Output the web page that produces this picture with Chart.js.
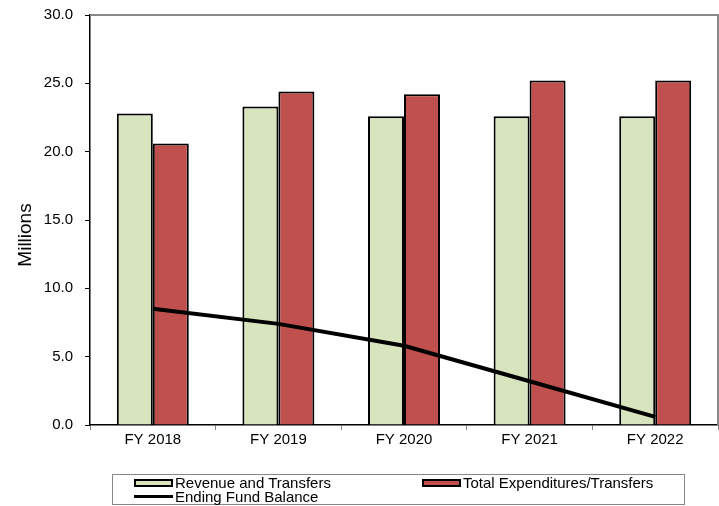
<!DOCTYPE html>
<html>
<head>
<meta charset="utf-8">
<script src="https://cdn.jsdelivr.net/npm/chart.js@4/dist/chart.umd.min.js"></script>
<style>
  html, body { margin: 0; padding: 0; background: #fff; }
  #wrap { position: relative; width: 719px; height: 506px; font-family: "Liberation Sans", Arial, sans-serif; }
  #legend {
    position: absolute; left: 112px; top: 474px; width: 573px; height: 31px;
    border: 1px solid #888; box-sizing: border-box; font-size: 15px; color: #000;
  }
  .item { position: absolute; display: flex; align-items: center; height: 15px; line-height: 15px; white-space: nowrap; }
  .swatch { width: 35px; height: 4px; border: 2px solid #000; margin-right: 2px; }
  .lineSwatch { width: 39px; height: 3.5px; background: #000; margin-right: 2px; }
</style>
</head>
<body>
<div id="wrap">
  <canvas id="c" width="719" height="506"></canvas>
  <div id="legend"></div>
</div>
<script>
// Fiscal years shown on the x axis
const categories = ['FY 2018', 'FY 2019', 'FY 2020', 'FY 2021', 'FY 2022'];
// Values in millions
const revenueTransfers = [22.8, 23.3, 22.6, 22.6, 22.6];
const totalExpenditures = [20.6, 24.4, 24.2, 25.2, 25.2];
const endingFundBalance = [8.5, 7.4, 5.8, 3.2, 0.6];
// Y axis range and tick step
const yTicks = [0, 5, 10, 15, 20, 25, 30];
const yAxisTitle = 'Millions';

const FONT = '"Liberation Sans", Arial, sans-serif';

// Grey frame on the top and right sides of the plot area
const frame = {
  id: 'frame',
  beforeDatasetsDraw(chart) {
    const { ctx, chartArea: a } = chart;
    ctx.save();
    ctx.strokeStyle = '#888';
    ctx.lineWidth = 2;
    ctx.beginPath();
    ctx.moveTo(a.left, a.top);
    ctx.lineTo(a.right, a.top);
    ctx.lineTo(a.right, a.bottom);
    ctx.stroke();
    ctx.restore();
  }
};

// Rotated y-axis title, sitting a little below the axis midpoint
const yTitle = {
  id: 'yTitle',
  afterDraw(chart) {
    const { ctx, chartArea: a } = chart;
    ctx.save();
    ctx.translate(26, (a.top + a.bottom) / 2 + 15);
    ctx.rotate(-Math.PI / 2);
    ctx.font = '19px ' + FONT;
    ctx.fillStyle = '#000';
    ctx.textAlign = 'center';
    ctx.textBaseline = 'middle';
    ctx.fillText(yAxisTitle, 0, 0);
    ctx.restore();
  }
};

const chart = new Chart(document.getElementById('c'), {
  data: {
    labels: categories,
    datasets: [
      {
        type: 'line', label: 'Ending Fund Balance', data: endingFundBalance,
        borderColor: '#000', borderWidth: 4, pointRadius: 0, tension: 0, order: 0
      },
      {
        type: 'bar', label: 'Revenue and Transfers', data: revenueTransfers,
        backgroundColor: '#D7E4BD', borderColor: '#000', borderWidth: 2, order: 1
      },
      {
        type: 'bar', label: 'Total Expenditures/Transfers', data: totalExpenditures,
        backgroundColor: '#C0504D', borderColor: '#000', borderWidth: 2, order: 1
      }
    ]
  },
  options: {
    responsive: false,
    animation: false,
    layout: { padding: { top: 15, right: 1, left: 0, bottom: 0 } },
    datasets: { bar: { categoryPercentage: 0.573, barPercentage: 1 } },
    plugins: { legend: { display: false }, tooltip: { enabled: false } },
    scales: {
      x: {
        offset: true,
        afterFit(s) { s.height = 81; s.paddingLeft = 0; s.paddingRight = 0; },
        border: { color: '#000', width: 1.5 },
        grid: { drawOnChartArea: false, drawTicks: true, tickLength: 5, color: '#888', offset: true },
        ticks: { color: '#000', font: { family: FONT, size: 15 }, padding: 1 }
      },
      y: {
        min: yTicks[0], max: yTicks[yTicks.length - 1],
        afterFit(s) { s.width = 90; s.paddingTop = 0; s.paddingBottom = 0; },
        afterBuildTicks(s) { s.ticks = yTicks.map(v => ({ value: v })); },
        border: { color: '#000', width: 1.5 },
        grid: { drawOnChartArea: false, drawTicks: true, tickLength: 5, color: '#000' },
        ticks: {
          color: '#000', font: { family: FONT, size: 15 }, padding: 12,
          callback: v => Number(v).toFixed(1)
        }
      }
    }
  },
  plugins: [frame, yTitle]
});

// Legend boxes built from the dataset definitions
const legend = document.getElementById('legend');
const ds = chart.data.datasets;
const placements = [
  { d: ds[1], left: 21, top: 0 },
  { d: ds[2], left: 309, top: 0 },
  { d: ds[0], left: 21, top: 14 }
];
placements.forEach(p => {
  const item = document.createElement('div');
  item.className = 'item';
  item.style.left = p.left + 'px';
  item.style.top = p.top + 'px';
  const sw = document.createElement('span');
  if (p.d.type === 'line') {
    sw.className = 'lineSwatch';
  } else {
    sw.className = 'swatch';
    sw.style.background = p.d.backgroundColor;
  }
  const tx = document.createElement('span');
  tx.textContent = p.d.label;
  item.appendChild(sw);
  item.appendChild(tx);
  legend.appendChild(item);
});
</script>
</body>
</html>
